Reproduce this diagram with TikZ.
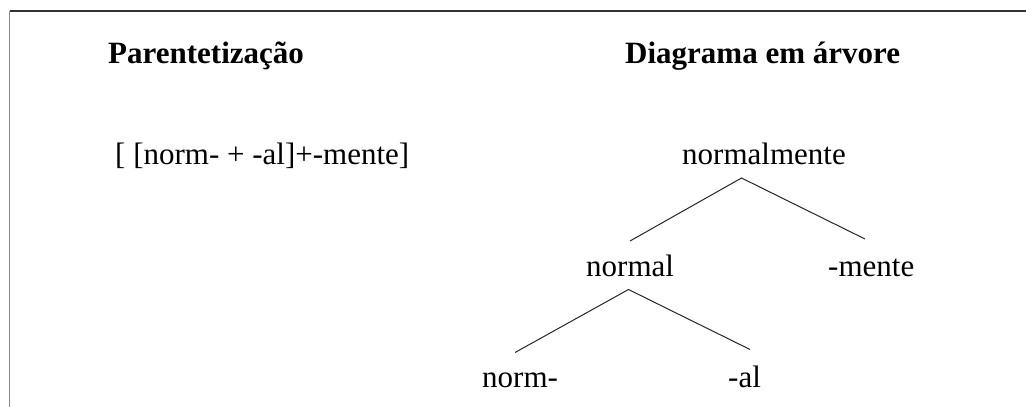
\documentclass[tikz,border=0pt]{standalone}
\usepackage{fontspec}
\setmainfont{Liberation Serif}
\begin{document}
\begin{tikzpicture}[x=1pt,y=-1pt,
  lbl/.style={anchor=base west,inner sep=0pt,font=\fontsize{31}{37}\selectfont},
  head/.style={lbl,font=\fontsize{31}{37}\selectfont\bfseries},
  branch/.style={draw=black!85,line width=1pt},
  frame/.style={line width=1.6pt,draw=black!80}]
\useasboundingbox (0,0) rectangle (1026,407);
% frame: top rule and left rule
\coordinate (fc) at (9.5,11);
\coordinate (ftr) at (1026,11);
\coordinate (fbl) at (9.5,407);
\draw[frame] (ftr) -- (fc);
\draw[draw=black!45,line width=1.4pt] (fc) -- (fbl);

% headings
\node[head] (h1) at (108,63) {Parentetização};
\node[head] (h2) at (625,63) {Diagrama em árvore};

% bracketing
\node[lbl] (br) at (115,164) {[ [norm- + -al]+-mente]};

% tree labels
\node[lbl] (root) at (682,164) {normalmente};
\node[lbl] (mid) at (586,276) {normal};
\node[lbl] (suf) at (828,276) {-mente};
\node[lbl] (stem) at (482,387) {norm-};
\node[lbl] (al) at (728,387) {-al};

% branch end points
\coordinate (rootA) at (741.5,178);
\coordinate (midT) at (630,241);
\coordinate (sufT) at (865,239);
\coordinate (midA) at (628.5,289.5);
\coordinate (stemT) at (515,352.5);
\coordinate (alT) at (750,349.5);

\draw[branch] (midT) -- (rootA) -- (sufT);
\draw[branch] (stemT) -- (midA) -- (alT);
\end{tikzpicture}
\end{document}
